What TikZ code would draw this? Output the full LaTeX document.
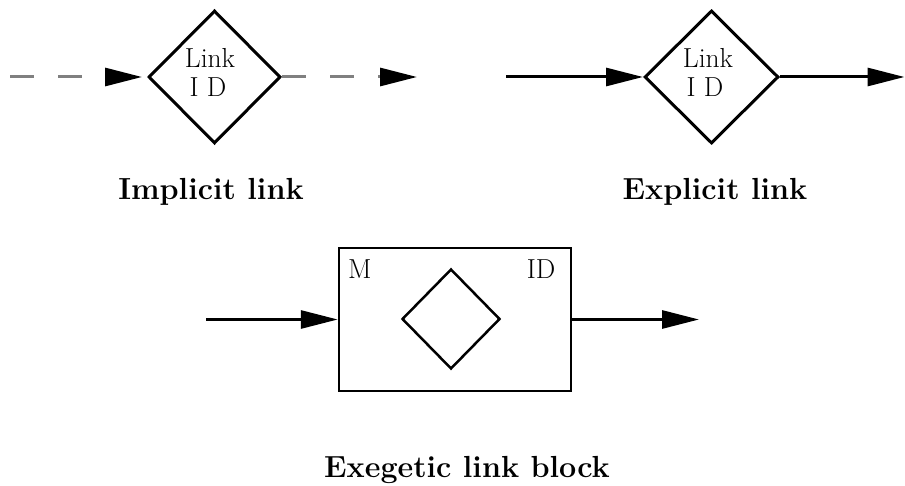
\documentclass[tikz,border=0pt]{standalone}
\usepackage{fontspec}
\setmainfont{Latin Modern Roman}
\usetikzlibrary{shapes.geometric,arrows.meta}
\definecolor{dashgray}{RGB}{128,128,128}
\begin{document}
\begin{tikzpicture}[x=1pt,y=-1pt,
  dia/.style={draw, diamond, line width=3pt, inner sep=0pt},
  arr/.style={line width=3pt, -{Triangle[length=37pt,width=18pt,black]}},
  darr/.style={arr, draw=dashgray, dash pattern=on 24pt off 24pt},
  txt/.style={font=\fontsize{27.5}{29}\selectfont, inner sep=0pt, anchor=base},
  captxt/.style={font=\fontsize{30.5}{34}\selectfont\bfseries, inner sep=0pt, anchor=base}]
\useasboundingbox (0,0) rectangle (905,486);
% implicit link
\node[dia, minimum width=132pt, minimum height=133pt] (d1) at (214.5,77) {};
\node[txt] (t1a) at (210,68) {Link};
\node[txt] (t1b) at (208,97) {I D};
\coordinate (a0) at (10,77);
\coordinate (a1) at (417,77);
\draw[darr, shorten >=5pt] (a0) -- (d1.west);
\draw[darr] (d1.east) -- (a1);
\node[captxt] (c1) at (211,200) {Implicit link};
% explicit link
\node[dia, minimum width=134pt, minimum height=133pt] (d2) at (711.5,77) {};
\node[txt] (t2a) at (708,68) {Link};
\node[txt] (t2b) at (705,97) {I D};
\coordinate (e0) at (506,77);
\coordinate (e1) at (904.5,77);
\draw[arr] (e0) -- (d2.west);
\draw[arr] (d2.east) -- (e1);
\node[captxt] (c2) at (715,200) {Explicit link};
% exegetic link block
\node[draw, line width=2.5pt, minimum width=232pt, minimum height=143pt, inner sep=0pt] (box) at (455,319.5) {};
\node[dia, line width=2.5pt, minimum width=98pt, minimum height=100pt] (d3) at (451,319) {};
\node[txt, anchor=base west] (m) at (348,279) {M};
\node[txt] (id) at (541,279) {ID};
\coordinate (b0) at (206,319.5);
\coordinate (b1) at (699,319.5);
\draw[arr] (b0) -- (box.west);
\draw[arr] (box.east) -- (b1);
\node[captxt] (c3) at (467,477) {Exegetic link block};
\end{tikzpicture}
\end{document}
